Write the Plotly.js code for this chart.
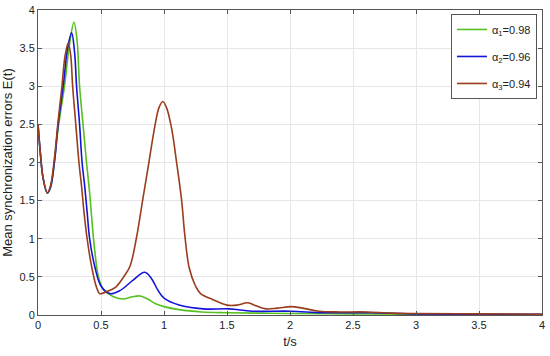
<!DOCTYPE html>
<html>
<head>
<meta charset="utf-8">
<script src="https://cdn.plot.ly/plotly-3.0.1.min.js"></script>
<style>html,body{margin:0;padding:0;background:#fff;}#chart{width:550px;height:356px;}</style>
</head>
<body>
<div id="chart"></div>
<script>
// alpha1 = 0.98 (green)
const t1 = [0, 0.02, 0.04, 0.074, 0.1, 0.13, 0.16, 0.21, 0.25, 0.285, 0.31, 0.33, 0.36, 0.385, 0.41, 0.43, 0.45, 0.48, 0.52, 0.56, 0.6, 0.675, 0.75, 0.81, 0.87, 0.93, 1.0, 1.12, 1.3, 1.5, 2.0, 2.5, 3.0, 3.5, 4.0];
const e1 = [2.5, 2.1, 1.8, 1.6, 1.68, 2.0, 2.45, 3.0, 3.55, 3.84, 3.6, 3.0, 2.45, 2.0, 1.6, 1.2, 0.85, 0.5, 0.33, 0.28, 0.24, 0.21, 0.24, 0.25, 0.21, 0.15, 0.11, 0.07, 0.04, 0.03, 0.02, 0.015, 0.01, 0.008, 0.006];
// alpha2 = 0.96 (blue)
const t2 = [0, 0.02, 0.04, 0.074, 0.1, 0.13, 0.16, 0.2, 0.235, 0.267, 0.29, 0.306, 0.33, 0.35, 0.37, 0.39, 0.41, 0.45, 0.5, 0.57, 0.65, 0.75, 0.847, 0.9, 0.95, 1.0, 1.12, 1.31, 1.52, 1.7, 2.0, 2.25, 2.5, 2.65, 3.0, 3.5, 4.0];
const e2 = [2.5, 2.1, 1.8, 1.6, 1.68, 2.0, 2.5, 3.0, 3.5, 3.7, 3.45, 3.0, 2.5, 2.0, 1.7, 1.35, 1.0, 0.64, 0.38, 0.28, 0.32, 0.45, 0.56, 0.48, 0.33, 0.22, 0.13, 0.08, 0.08, 0.05, 0.05, 0.03, 0.03, 0.03, 0.015, 0.01, 0.008];
// alpha3 = 0.94 (brown)
const t3 = [0, 0.02, 0.04, 0.074, 0.1, 0.13, 0.16, 0.19, 0.215, 0.24, 0.26, 0.275, 0.3, 0.325, 0.345, 0.365, 0.39, 0.425, 0.465, 0.49, 0.55, 0.62, 0.68, 0.73, 0.78, 0.83, 0.88, 0.93, 0.96, 0.99, 1.02, 1.06, 1.1, 1.14, 1.165, 1.2, 1.25, 1.29, 1.39, 1.5, 1.58, 1.665, 1.73, 1.81, 1.9, 2.01, 2.1, 2.23, 2.4, 2.6, 2.8, 3.0, 3.5, 4.0];
const e3 = [2.5, 2.1, 1.8, 1.6, 1.7, 2.05, 2.55, 3.0, 3.4, 3.57, 3.4, 3.0, 2.5, 2.0, 1.7, 1.35, 1.0, 0.64, 0.36, 0.28, 0.31, 0.37, 0.5, 0.64, 1.0, 1.5, 2.0, 2.5, 2.72, 2.8, 2.72, 2.45, 2.0, 1.5, 1.05, 0.62, 0.38, 0.28, 0.2, 0.13, 0.13, 0.16, 0.12, 0.08, 0.09, 0.11, 0.09, 0.05, 0.04, 0.04, 0.025, 0.02, 0.015, 0.01];

const names = ['\u03b1<sub>1</sub>=0.98', '\u03b1<sub>2</sub>=0.96', '\u03b1<sub>3</sub>=0.94'];
const colors = ['#55c01e', '#1414d8', '#993d1c'];
const xs = [t1, t2, t3], ys = [e1, e2, e3];

const traces = xs.map((x, i) => ({
  x: x, y: ys[i], name: names[i], legendgroup: 'g' + i, type: 'scatter', mode: 'lines',
  line: {color: colors[i], width: 1.6, shape: 'spline', smoothing: 1}
}));

const axisCommon = {
  showline: true, mirror: 'ticks', linecolor: '#555', linewidth: 1,
  ticks: 'inside', ticklen: 4, tickcolor: '#555', automargin: false,
  showgrid: true, gridcolor: '#e6e6e6', gridwidth: 1,
  zeroline: false, tickfont: {family: 'Liberation Sans, Arial', size: 11, color: '#222'}
};

const layout = {
  width: 550, height: 356,
  margin: {l: 38, r: 8, t: 10, b: 41},
  paper_bgcolor: '#fff', plot_bgcolor: '#fff',
  font: {family: 'Liberation Sans, Arial', size: 11, color: '#222'},
  xaxis: Object.assign({}, axisCommon, {
    range: [0, 4], tickvals: [0, 0.5, 1, 1.5, 2, 2.5, 3, 3.5, 4],
    ticktext: ['0', '0.5', '1', '1.5', '2', '2.5', '3', '3.5', '4'],
    title: {text: 't/s', font: {size: 13, color: '#222'}, standoff: 6}
  }),
  yaxis: Object.assign({}, axisCommon, {
    range: [0, 4], tickvals: [0, 0.5, 1, 1.5, 2, 2.5, 3, 3.5, 4],
    ticktext: ['0', '0.5', '1', '1.5', '2', '2.5', '3', '3.5', '4'],
    title: {text: 'Mean synchronization errors E(t)', font: {size: 13, color: '#222'}, standoff: 4}
  }),
  showlegend: true,
  legend: {
    x: 0.99, y: 0.987, xanchor: 'right', yanchor: 'top',
    bgcolor: '#fff', bordercolor: '#555', borderwidth: 1,
    font: {family: 'Liberation Sans, Arial', size: 11, color: '#222'},
    traceorder: 'grouped', tracegroupgap: 8, itemwidth: 30
  }
};

Plotly.newPlot('chart', traces, layout, {displayModeBar: false, staticPlot: true});
</script>
</body>
</html>
